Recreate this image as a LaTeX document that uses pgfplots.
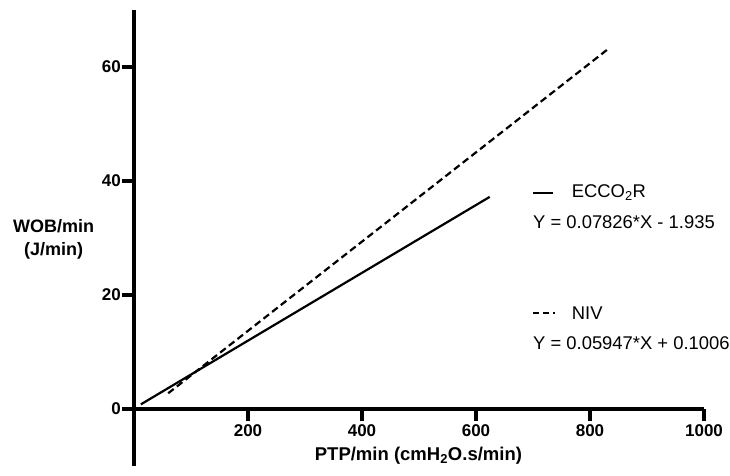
\documentclass[border=0pt]{standalone}
\usepackage{fontspec}
\setmainfont{Liberation Sans}
\usepackage{pgfplots}
\pgfplotsset{compat=1.18}
\begin{document}
\begin{tikzpicture}
\begin{axis}[
  anchor=origin, at={(0,0)},
  x=0.57pt, y=5.7pt,
  xmin=0, xmax=1000, ymin=-10, ymax=70,
  axis x line=middle, axis y line=left,
  axis line style={draw=none},
  xtick={200,400,600,800,1000}, ytick={0,20,40,60},
  tick align=outside, major tick length=12pt,
  major tick style={line width=3.5pt, black},
  ticklabel style={font=\bfseries\fontsize{17}{19}\selectfont},
  yticklabel style={inner sep=1pt},
  /pgf/number format/1000 sep={},
  /pgf/number format/assume math mode=true,
  clip=false,
]
% axis lines (GraphPad style, y line runs below the x axis)
\draw[line width=4pt] (axis cs:0,-10) -- (axis cs:0,70);
\draw[line width=4pt] (axis cs:0,0) -- (axis cs:1000,0);

% ECCO2R (solid) and NIV (dashed) fitted lines
\addplot[black, line width=2.2pt] coordinates {(12,0.814) (624,37.21)};
\addplot[black, line width=2.2pt, dash pattern=on 7pt off 4pt] coordinates {(60,2.761) (830,63.02)};

\node[font=\bfseries\fontsize{18}{22}\selectfont, anchor=base] at (axis cs:-141,30.9) {WOB/min};
\node[font=\bfseries\fontsize{18}{22}\selectfont, anchor=base] at (axis cs:-141,26.9) {(J/min)};
\node[font=\bfseries\fontsize{18.5}{22}\selectfont, anchor=base] at (axis cs:499,-9.1) {PTP/min (cmH\textsubscript{2}O.s/min)};

\draw[line width=2.2pt] (axis cs:700,37.9) -- (axis cs:735,37.9);
\node[anchor=west, font=\fontsize{18.4}{22}\selectfont] at (axis cs:762,37.9) {ECCO\textsubscript{2}R};
\node[anchor=west, inner sep=0pt, font=\fontsize{18.4}{22}\selectfont] at (axis cs:700,32.8) {Y = 0.07826*X - 1.935};
\draw[line width=2.2pt, dash pattern=on 6pt off 4pt] (axis cs:700,16.8) -- (axis cs:738,16.8);
\node[anchor=west, font=\fontsize{18.4}{22}\selectfont] at (axis cs:762,16.8) {NIV};
\node[anchor=west, inner sep=0pt, font=\fontsize{18.4}{22}\selectfont] at (axis cs:700,11.6) {Y = 0.05947*X + 0.1006};
\end{axis}
\path (-134pt,-66pt) rectangle (596pt,409pt);
\end{tikzpicture}
\end{document}
